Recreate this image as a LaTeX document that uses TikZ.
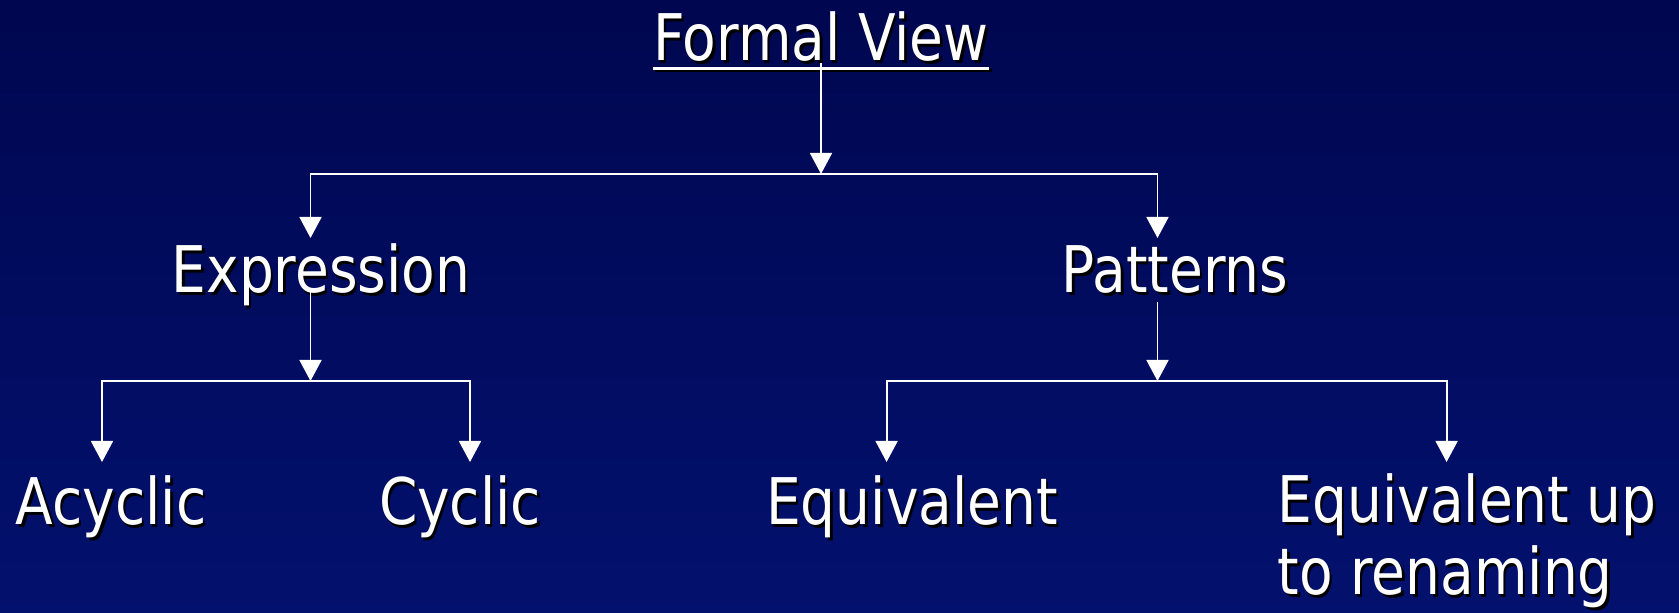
\documentclass[tikz,border=0pt]{standalone}
\usepackage{fontspec}
\setmainfont{DejaVu Sans}[FakeStretch=0.855]
\usepackage{tikz}
\usetikzlibrary{positioning, arrows.meta, calc}

\definecolor{slidetop}{RGB}{0,7,80}
\definecolor{slidebot}{RGB}{3,17,110}
\newcommand{\shd}[1]{\leavevmode\rlap{\kern0.025cm\raisebox{-0.025cm}{\color{black}#1}}#1}

\tikzset{
	lbl/.style={inner sep=0pt, anchor=base, text=white, font=\fontsize{18.3}{20.6}\selectfont},
	wire/.style={draw=white, line width=0.018cm},
	arr/.style={wire, -{Triangle[length=0.21cm, width=0.22cm]}}
}

\begin{document}
\begin{tikzpicture}
		\shade[top color=slidetop, bottom color=slidebot] (0,0) rectangle (16.79,-6.13);
		\useasboundingbox (0,0) rectangle (16.79,-6.13);
		% titles
		\node[lbl] (fv) at (8.21,-0.61){\shd{Formal View}};
		\node[lbl] (expr) at (3.21,-2.93){\shd{Expression}};
		\node[lbl] (patt) at (11.75,-2.93){\shd{Patterns}};
		\node[lbl] (acyc) at (1.11,-5.25){\shd{Acyclic}};
		\node[lbl] (cyc) at (4.6,-5.25){\shd{Cyclic}};
		\node[lbl] (equiv) at (9.12,-5.25){\shd{Equivalent}};
		\node[lbl, anchor=base west, align=left] (equivr) at (12.77,-5.95){\shd{Equivalent up}\\\shd{to renaming}};
		\draw[black, line width=0.03cm] ($(fv.base west)+(0.025,-0.1)$) -- ($(fv.base east)+(0.025,-0.1)$);
		\draw[white, line width=0.03cm] ($(fv.base west)+(0,-0.075)$) -- ($(fv.base east)+(0,-0.075)$);
		% junctions and arrow ends
		\coordinate (j0) at (8.21,-1.74);
		\coordinate (j1) at (3.105,-3.81);
		\coordinate (j2) at (11.575,-3.81);
		\coordinate (eIn) at (3.105,-2.38);
		\coordinate (pIn) at (11.575,-2.38);
		\coordinate (aIn) at (1.02,-4.62);
		\coordinate (cIn) at (4.7,-4.62);
		\coordinate (qIn) at (8.866,-4.62);
		\coordinate (rIn) at (14.466,-4.62);
		\draw[arr] ($(fv.base -| j0)+(0,-0.02)$) -- (j0);
		\draw[arr] (j0) -| (eIn);
		\draw[arr] (j0) -| (pIn);
		\draw[arr] ($(expr.base -| j1)+(0,0.04)$) -- (j1);
		\draw[arr] (j1) -| (aIn);
		\draw[arr] (j1) -| (cIn);
		\draw[arr] ($(patt.base -| j2)+(0,-0.09)$) -- (j2);
		\draw[arr] (j2) -| (qIn);
		\draw[arr] (j2) -| (rIn);
	\end{tikzpicture}
\end{document}
